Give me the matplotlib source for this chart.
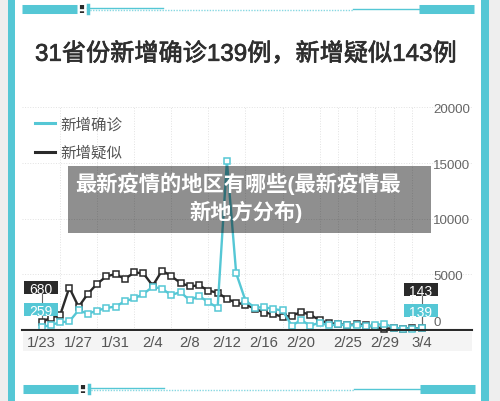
import matplotlib
matplotlib.use('Agg')
import matplotlib.pyplot as plt
import matplotlib.patheffects as pe
from matplotlib.lines import Line2D
from matplotlib.patches import Rectangle

plt.rcParams['font.family'] = ['Liberation Sans', 'Noto Sans CJK SC', 'DejaVu Sans']

# chart data
confirmed = [259, 444, 688, 769, 1771, 1459, 1737, 1982, 2102, 2590, 2829, 3235, 3887, 3694,
             3143, 3399, 2656, 3062, 2478, 2015, 15152, 5090, 2641, 2009, 2048, 1886, 1749,
             394, 889, 397, 648, 409, 508, 406, 433, 327, 427, 573, 202, 125, 119, 139]
suspected = [680, 1118, 1309, 3806, 2077, 3248, 4148, 4812, 5019, 4562, 5173, 5072, 3971, 5328,
             4833, 4214, 3916, 4008, 3536, 3342, 2807, 2450, 2277, 1918, 1563, 1432, 1185,
             1277, 1614, 1361, 882, 620, 530, 439, 508, 452, 248, 132, 141, 129, 143, 143]
tick_pos = [0, 4, 8, 12, 16, 20, 24, 28, 33, 37, 41]
tick_labels = ['1/23', '1/27', '1/31', '2/4', '2/8', '2/12', '2/16', '2/20', '2/25', '2/29', '3/4']
y_ticks = [0, 5000, 10000, 15000, 20000]

title = '31省份新增确诊139例，新增疑似143例'
overlay_lines = ['最新疫情的地区有哪些(最新疫情最', '新地方分布)']
names = ['新增确诊', '新增疑似']

TEAL = '#55c7d5'
DARK = '#2a2a2a'
W, H = 500, 402
STEP = 9.27
X0 = 41.5

fig = plt.figure(figsize=(W / 100, H / 100), dpi=100, facecolor='white')

# page frame, in pixels
bg = fig.add_axes([0, 0, 1, 1])
bg.set_xlim(0, W)
bg.set_ylim(H, 0)
bg.axis('off')
bg.add_patch(Rectangle((0, 0), 8, H, color='#eeeeee', lw=0))
bg.add_patch(Rectangle((489, 0), 11, H, color='#eeeeee', lw=0))
bg.add_patch(Rectangle((8, 0), 7, H, color=TEAL, lw=0))
bg.add_patch(Rectangle((481, 0), 8, H, color=TEAL, lw=0))
bg.add_patch(Rectangle((23, 333), 449, 19, color='#f4f4f4', lw=0))

# the strips above and below the chart
for mid, left in [(10, 22), (389.5, 23)]:
    bg.plot([left, left + 55], [mid, mid], color=TEAL, lw=6.5, solid_capstyle='butt')
    bg.plot([left + 65, left + 331], [mid + 1, mid + 1], color=TEAL, lw=1, ls=(0, (1, 1)), alpha=0.7)
    bg.plot([left + 65, left + 141], [mid - 1, mid - 1], color=TEAL, lw=1)
    bg.plot([left + 331, left + 397], [mid, mid], color=TEAL, lw=1)
    bg.plot([left + 397, left + 452], [mid, mid], color=TEAL, lw=6.5, solid_capstyle='butt')
    bg.plot([left + 60, left + 60], [mid - 4, mid + 4], color=DARK, lw=3, ls=(0, (1, 0.5)))
    bg.plot([left + 66, left + 66], [mid - 4, mid + 4], color=TEAL, lw=2.5)

bg.text(35, 55, title, fontsize=17.4, color='#2e2e2e', va='center', ha='left',
        path_effects=[pe.withStroke(linewidth=0.5, foreground='#2e2e2e')])

# main chart
ax = fig.add_axes([22 / W, 1 - 331 / H, 450 / W, 223 / H])
ax.patch.set_alpha(0)
ax.set_xlim((22 - X0) / STEP, (472 - X0) / STEP)
ax.set_ylim(0, 20000)
for side in ['top', 'left', 'right']:
    ax.spines[side].set_visible(False)
ax.spines['bottom'].set_linewidth(1.5)
ax.spines['bottom'].set_color(DARK)
ax.set_yticks(y_ticks[1:])
ax.set_yticklabels([])
ax.set_xticks(range(0, 42, 2), minor=True)
ax.set_xticks(tick_pos)
ax.set_xticklabels(tick_labels, fontsize=10.7, color='#555555')
ax.tick_params(axis='both', which='both', length=0)
ax.tick_params(axis='x', pad=3.5)
ax.grid(True, axis='y', color='#e2e2e2', lw=0.7, ls=':')
ax.grid(True, axis='x', which='minor', color='#e2e2e2', lw=0.7, ls=':')
ax.grid(False, axis='x', which='major')
ax.set_axisbelow(True)

# value labels sit inside the plot area, left aligned
label_offsets = {0: 8, 5000: -2, 10000: -2, 15000: -2, 20000: -2}
for val in y_ticks:
    ax.annotate(str(val), xy=((433 - 22) / 450, val), xycoords=('axes fraction', 'data'),
                xytext=(0, label_offsets[val] * 0.72), textcoords='offset points',
                fontsize=9.6, color='#666666', va='center', ha='left', annotation_clip=False)

marker = dict(marker='s', ms=4.2, mfc='white', mew=1.1, clip_on=False)
ax.plot(suspected, color=DARK, lw=1.7, mec=DARK, **marker)
ax.plot(confirmed, color=TEAL, lw=1.7, mec=TEAL, **marker)

# connectors from the end points up to their labels
for idx, val, box_y in [(0, suspected[0], 295), (0, confirmed[0], 310), (41, suspected[-1], 297), (41, confirmed[-1], 312)]:
    ax.plot([idx, idx], [val, (331 - box_y) / 223 * 20000], color='#666666', lw=0.8, zorder=1.5, clip_on=False)

# legend
handles = [Line2D([], [], color=TEAL, lw=2.2), Line2D([], [], color=DARK, lw=2.2)]
ax.legend(handles, names, loc='upper left', bbox_to_anchor=(0.029, 0.958), frameon=False, fontsize=11.2,
          labelcolor='#555555', handlelength=1.3, handletextpad=0.3, labelspacing=0.88, borderpad=0, borderaxespad=0)

# value boxes and grey band with the page headline on top of everything
top = fig.add_axes([0, 0, 1, 1])
top.set_xlim(0, W)
top.set_ylim(H, 0)
top.axis('off')
for left, box_top, val, col in [(24, 282, suspected[0], DARK), (24, 304, confirmed[0], TEAL),
                                (404, 284, suspected[-1], DARK), (404, 305, confirmed[-1], TEAL)]:
    top.add_patch(Rectangle((left, box_top), 34, 13, color=col, lw=0))
    top.text(left + 17, box_top + 6.5, str(val), fontsize=10, color='white', ha='center', va='center_baseline')

top.add_patch(Rectangle((68, 167), 363, 67, color='black', alpha=0.44, lw=0))
for x, y, line in [(238.5, 184, overlay_lines[0]), (246, 212, overlay_lines[1])]:
    top.text(x, y, line, fontsize=15.3, fontweight='bold', color='white', ha='center', va='center')

fig.savefig('out.png', dpi=100)
